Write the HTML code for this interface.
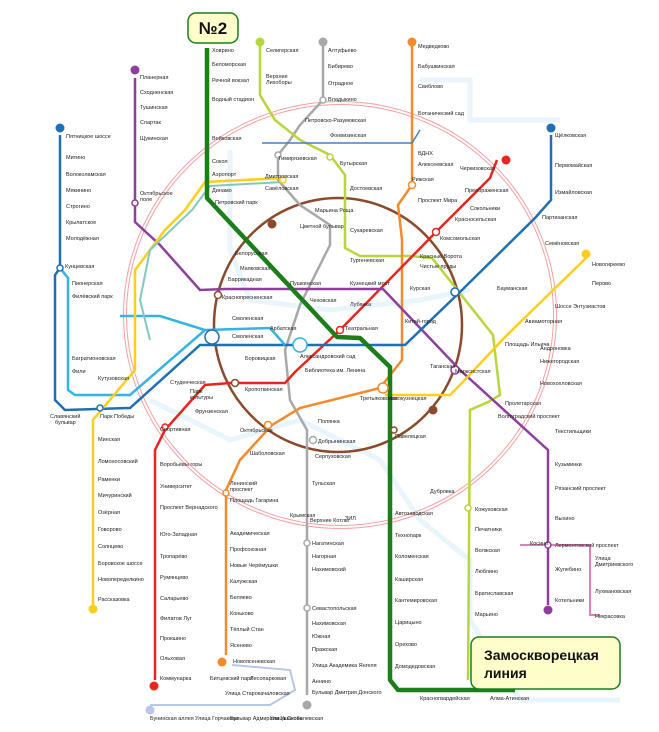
<!DOCTYPE html>
<html><head><meta charset="utf-8"><style>
html,body{margin:0;padding:0;background:#fff;}
svg{display:block;}
text{font-family:"Liberation Sans","Noto Sans CJK SC",sans-serif;font-size:5.5px;fill:#222;}
</style></head><body>
<svg width="659" height="732" viewBox="0 0 659 732" xmlns="http://www.w3.org/2000/svg">
<path d="M420,80 L470,80 L470,120 L560,120 M230,150 L230,250 L250,300 L330,310 L420,300 L470,290 M150,400 L230,440 L300,420 L380,460 L420,520 L470,560 L470,620 L520,700 L620,700" fill="none" stroke="#e8f5fc" stroke-width="5"/>
<ellipse cx="340" cy="315" rx="215" ry="212" fill="none" stroke="#f5a0a0" stroke-width="4"/>
<ellipse cx="340" cy="315" rx="215" ry="212" fill="none" stroke="#fff" stroke-width="2"/>
<ellipse cx="338" cy="325" rx="124" ry="127" fill="none" stroke="#8b4a2b" stroke-width="2.5"/>
<path d="M323,45 L323,100 L300,125 L290,140 L278,155 L278,180 L300,205 L330,225 L330,245 L300,305 L285,350 L290,400 L307,430 L307,695" fill="none" stroke="#a8a8a8" stroke-width="2.5"/>
<path d="M260,45 L260,95 L275,120 L300,140 L330,155 L345,175 L345,248 L360,256 L410,256 L432,258 L493,335 L500,395 L488,402 L470,410 L468,680" fill="none" stroke="#b6d63c" stroke-width="2.5"/>
<path d="M412,45 L412,185 L398,205 L402,240 L402,360 L380,388 L300,408 L272,425 L240,460 L226,490 L226,655" fill="none" stroke="#f58a2a" stroke-width="2.5"/>
<path d="M497,160 L490,178 L436,232 L340,330 L295,372 L285,383 L230,383 L205,385 L165,430 L155,450 L155,680" fill="none" stroke="#e8261e" stroke-width="2.5"/>
<path d="M135,78 L135,222 L160,245 L200,290 L225,289 L383,289 L460,370 L548,450 L548,605" fill="none" stroke="#8e3f9c" stroke-width="2.5"/>
<path d="M60,135 L60,268 L55,275 L55,400 L65,410 L130,408 L200,345 L405,345 L460,292 L535,218 L551,200 L551,135" fill="none" stroke="#1f6fb5" stroke-width="2.5"/>
<path d="M60,268 L68,278 L68,390 L75,395 L130,395 L205,330 L270,328 L285,345 M120,316 L160,316 L205,330" fill="none" stroke="#34b4e6" stroke-width="2.5"/>
<path d="M586,258 L505,337 L460,385 L450,395 L385,395 M93,605 L93,420 L135,370 L135,270 L165,230 L185,210 L205,182 L283,178" fill="none" stroke="#ffcd1c" stroke-width="2.5"/>
<path d="M283,182 L210,186 L192,210 L150,250 L140,300 L150,340" fill="none" stroke="#82c8c0" stroke-width="2"/>
<path d="M520,545 L550,545 L590,545 L590,615 L600,615" fill="none" stroke="#de7fb7" stroke-width="2"/>
<path d="M232,665 L290,670 L295,690 L270,705 L150,705" fill="none" stroke="#b8c6ea" stroke-width="2"/>
<path d="M262,143 L412,143 L420,130" fill="none" stroke="#3d83c4" stroke-width="1.5"/>
<path d="M207,48 L207,198 L337,337 L360,338 L390,367 L390,680 L398,690 L515,690" fill="none" stroke="#1b7e1b" stroke-width="4.5" stroke-linejoin="round"/>
<g fill="#fff" stroke-width="1.5">
<circle cx="436" cy="232" r="3.5" stroke="#e8261e"/><circle cx="340" cy="330" r="3.5" stroke="#e8261e"/>
<circle cx="218" cy="295" r="3.5" stroke="#8b4a2b"/><circle cx="235" cy="383" r="3.5" stroke="#8b4a2b"/>
<circle cx="268" cy="425" r="3.5" stroke="#f58a2a"/><circle cx="313" cy="440" r="3.5" stroke="#a8a8a8"/>
<circle cx="394" cy="430" r="3" stroke="#8b4a2b"/><circle cx="455" cy="370" r="4" stroke="#8e3f9c"/>
<circle cx="455" cy="292" r="4" stroke="#1f6fb5"/><circle cx="300" cy="345" r="7" stroke="#34b4e6"/>
<circle cx="212" cy="337" r="7" stroke="#1f6fb5"/><circle cx="383" cy="388" r="5" stroke="#f58a2a"/>
<circle cx="412" cy="185" r="3.5" stroke="#f58a2a"/><circle cx="323" cy="100" r="3" stroke="#a8a8a8"/>
<circle cx="330" cy="157" r="3" stroke="#b6d63c"/><circle cx="135" cy="203" r="3" stroke="#8e3f9c"/>
<circle cx="468" cy="508" r="3" stroke="#b6d63c"/><circle cx="307" cy="543" r="3" stroke="#a8a8a8"/>
<circle cx="307" cy="608" r="3" stroke="#a8a8a8"/><circle cx="226" cy="493" r="3" stroke="#f58a2a"/>
<circle cx="165" cy="427" r="3" stroke="#e8261e"/><circle cx="100" cy="408" r="3" stroke="#1f6fb5"/>
<circle cx="60" cy="268" r="3" stroke="#1f6fb5"/><circle cx="548" cy="545" r="3" stroke="#8e3f9c"/>
<circle cx="283" cy="180" r="3" stroke="#ffcd1c"/><circle cx="278" cy="155" r="3" stroke="#a8a8a8"/>
</g>
<g>
<circle cx="135" cy="70" r="4.5" fill="#8e3f9c"/><circle cx="60" cy="128" r="4.5" fill="#1f6fb5"/>
<circle cx="260" cy="42" r="4.5" fill="#b6d63c"/><circle cx="323" cy="42" r="4.5" fill="#a8a8a8"/>
<circle cx="412" cy="42" r="4.5" fill="#f58a2a"/><circle cx="551" cy="128" r="4.5" fill="#1f6fb5"/>
<circle cx="506" cy="160" r="4.5" fill="#e8261e"/><circle cx="586" cy="254" r="4.5" fill="#ffcd1c"/>
<circle cx="548" cy="610" r="4.5" fill="#8e3f9c"/><circle cx="154" cy="686" r="4.5" fill="#e8261e"/>
<circle cx="93" cy="609" r="4.5" fill="#ffcd1c"/><circle cx="222" cy="662" r="4.5" fill="#f58a2a"/>
<circle cx="307" cy="705" r="4.5" fill="#a8a8a8"/><circle cx="150" cy="710" r="4.5" fill="#b8c6ea"/>
<circle cx="272" cy="224" r="4.5" fill="#8b4a2b"/><circle cx="433" cy="410" r="4.5" fill="#8b4a2b"/>
</g>
<g>
<text x="212" y="52">Ховрино</text><text x="212" y="66">Беломорская</text><text x="212" y="82">Речной вокзал</text><text x="212" y="101">Водный стадион</text><text x="212" y="140">Войковская</text><text x="212" y="163">Сокол</text><text x="212" y="176">Аэропорт</text><text x="212" y="192">Динамо</text><text x="215" y="204">Петровский парк</text>
<text x="266" y="52">Селигерская</text><text x="266" y="78">Верхние</text><text x="266" y="84">Лихоборы</text><text x="328" y="52">Алтуфьево</text><text x="328" y="68">Бибирево</text><text x="328" y="85">Отрадное</text><text x="328" y="101">Владыкино</text>
<text x="418" y="48">Медведково</text><text x="418" y="68">Бабушкинская</text><text x="418" y="88">Свиблово</text><text x="418" y="115">Ботанический сад</text><text x="418" y="155">ВДНХ</text><text x="418" y="166">Алексеевская</text><text x="412" y="181">Рижская</text><text x="418" y="202">Проспект Мира</text>
<text x="140" y="79">Планерная</text><text x="140" y="94">Сходненская</text><text x="140" y="109">Тушинская</text><text x="140" y="124">Спартак</text><text x="140" y="140">Щукинская</text><text x="140" y="195">Октябрьское</text><text x="140" y="201">поле</text>
<text x="66" y="138">Пятницкое шоссе</text><text x="66" y="159">Митино</text><text x="66" y="176">Волоколамская</text><text x="66" y="192">Мякинино</text><text x="66" y="208">Строгино</text><text x="66" y="224">Крылатское</text><text x="66" y="240">Молодёжная</text>
<text x="65" y="268">Кунцевская</text><text x="72" y="285">Пионерская</text><text x="72" y="298">Филёвский парк</text><text x="72" y="360">Багратионовская</text><text x="72" y="373">Фили</text><text x="98" y="380">Кутузовская</text><text x="50" y="418">Славянский</text><text x="55" y="424">бульвар</text><text x="100" y="418">Парк Победы</text>
<text x="98" y="441">Минская</text><text x="98" y="463">Ломоносовский</text><text x="98" y="481">Раменки</text><text x="98" y="497">Мичуринский</text><text x="98" y="514">Озёрная</text><text x="98" y="531">Говорово</text><text x="98" y="548">Солнцево</text><text x="98" y="565">Боровское шоссе</text><text x="98" y="581">Новопеределкино</text><text x="98" y="601">Рассказовка</text>
<text x="160" y="431">Спортивная</text><text x="160" y="466">Воробьёвы горы</text><text x="160" y="488">Университет</text><text x="160" y="509">Проспект Вернадского</text><text x="160" y="536">Юго-Западная</text><text x="160" y="558">Тропарёво</text><text x="160" y="579">Румянцево</text><text x="160" y="600">Саларьево</text><text x="160" y="620">Филатов Луг</text><text x="160" y="640">Прокшино</text><text x="160" y="660">Ольховая</text><text x="160" y="680">Коммунарка</text>
<text x="230" y="535">Академическая</text><text x="230" y="551">Профсоюзная</text><text x="230" y="567">Новые Черёмушки</text><text x="230" y="583">Калужская</text><text x="230" y="599">Беляево</text><text x="230" y="615">Коньково</text><text x="230" y="631">Тёплый Стан</text><text x="230" y="647">Ясенево</text><text x="233" y="663">Новоясеневская</text>
<text x="312" y="545">Нагатинская</text><text x="312" y="558">Нагорная</text><text x="312" y="571">Нахимовский</text><text x="312" y="610">Севастопольская</text><text x="312" y="625">Нахимовская</text><text x="312" y="638">Южная</text><text x="312" y="651">Пражская</text><text x="312" y="667">Улица Академика Янгеля</text><text x="312" y="683">Аннино</text><text x="312" y="694">Бульвар Дмитрия Донского</text>
<text x="395" y="515">Автозаводская</text><text x="395" y="537">Технопарк</text><text x="395" y="558">Коломенская</text><text x="395" y="581">Каширская</text><text x="395" y="602">Кантемировская</text><text x="395" y="624">Царицыно</text><text x="395" y="646">Орехово</text><text x="395" y="668">Домодедовская</text><text x="420" y="700">Красногвардейская</text><text x="490" y="700">Алма-Атинская</text>
<text x="475" y="511">Кожуховская</text><text x="475" y="531">Печатники</text><text x="475" y="552">Волжская</text><text x="475" y="573">Люблино</text><text x="475" y="595">Братиславская</text><text x="475" y="616">Марьино</text><text x="430" y="493">Дубровка</text>
<text x="555" y="137">Щёлковская</text><text x="555" y="167">Первомайская</text><text x="555" y="194">Измайловская</text><text x="542" y="219">Партизанская</text><text x="545" y="245">Семёновская</text><text x="497" y="290">Бауманская</text><text x="555" y="433">Текстильщики</text><text x="555" y="466">Кузьминки</text><text x="555" y="490">Рязанский проспект</text><text x="555" y="520">Выхино</text><text x="555" y="547">Лермонтовский проспект</text><text x="555" y="571">Жулебино</text><text x="555" y="602">Котельники</text>
<text x="592" y="266">Новогиреево</text><text x="592" y="285">Перово</text><text x="555" y="308">Шоссе Энтузиастов</text><text x="525" y="323">Авиамоторная</text><text x="505" y="346">Площадь Ильича</text><text x="540" y="350">Андроновка</text><text x="540" y="363">Нижегородская</text><text x="540" y="385">Новохохловская</text><text x="505" y="405">Пролетарская</text><text x="498" y="418">Волгоградский проспект</text>
<text x="460" y="170">Черкизовская</text><text x="465" y="192">Преображенская</text><text x="470" y="210">Сокольники</text><text x="455" y="221">Красносельская</text><text x="440" y="240">Комсомольская</text><text x="420" y="258">Красные Ворота</text><text x="420" y="268">Чистые пруды</text><text x="410" y="290">Курская</text><text x="405" y="323">Китай-город</text><text x="430" y="368">Таганская</text><text x="455" y="373">Марксистская</text>
<text x="235" y="255">Белорусская</text><text x="240" y="270">Маяковская</text><text x="228" y="281">Баррикадная</text><text x="222" y="299">Краснопресненская</text><text x="290" y="285">Пушкинская</text><text x="310" y="302">Чеховская</text><text x="350" y="285">Кузнецкий мост</text><text x="350" y="306">Лубянка</text><text x="345" y="330">Театральная</text><text x="232" y="320">Смоленская</text><text x="232" y="338">Смоленская</text><text x="270" y="330">Арбатская</text><text x="245" y="360">Боровицкая</text><text x="300" y="358">Александровский сад</text><text x="305" y="372">Библиотека им. Ленина</text>
<text x="170" y="384">Студенческая</text><text x="245" y="391">Кропоткинская</text><text x="190" y="393">Парк</text><text x="190" y="399">культуры</text><text x="195" y="413">Фрунзенская</text><text x="240" y="432">Октябрьская</text><text x="250" y="455">Шаболовская</text><text x="318" y="443">Добрынинская</text><text x="318" y="423">Полянка</text><text x="315" y="458">Серпуховская</text><text x="312" y="485">Тульская</text><text x="395" y="438">Павелецкая</text><text x="388" y="400">Новокузнецкая</text><text x="360" y="400">Третьяковская</text>
<text x="315" y="212">Марьина Роща</text><text x="300" y="228">Цветной бульвар</text><text x="350" y="232">Сухаревская</text><text x="350" y="262">Тургеневская</text><text x="350" y="190">Достоевская</text><text x="340" y="165">Бутырская</text><text x="278" y="160">Тимирязевская</text><text x="265" y="178">Дмитровская</text><text x="265" y="190">Савёловская</text><text x="305" y="122">Петровско-Разумовская</text><text x="330" y="137">Фонвизинская</text>
<text x="230" y="485">Ленинский</text><text x="230" y="491">проспект</text><text x="230" y="502">Площадь Гагарина</text><text x="290" y="517">Крымская</text><text x="310" y="522">Верхние Котлы</text><text x="345" y="520">ЗИЛ</text>
<text x="530" y="545">Косино</text><text x="595" y="560">Улица</text><text x="595" y="566">Дмитриевского</text><text x="595" y="593">Лухмановская</text><text x="595" y="618">Некрасовка</text>
<text x="210" y="680">Битцевский парк</text><text x="250" y="680">Лесопарковая</text><text x="225" y="695">Улица Старокачаловская</text><text x="150" y="720">Бунинская аллея</text><text x="195" y="720">Улица Горчакова</text><text x="230" y="720">Бульвар Адмирала Ушакова</text><text x="270" y="720">Улица Скобелевская</text>
</g>
<rect x="188" y="13" width="50" height="30" rx="8" fill="#ffffcc" stroke="#1b7e1b" stroke-width="1.5"/>
<text x="213" y="34" text-anchor="middle" style="font-size:17px;font-weight:bold;fill:#111">№2</text>
<rect x="471" y="637" width="149" height="52" rx="8" fill="#ffffcc" stroke="#1b7e1b" stroke-width="1.5"/>
<text x="484" y="660" style="font-size:14px;font-weight:bold;fill:#111">Замоскворецкая</text>
<text x="484" y="678" style="font-size:14px;font-weight:bold;fill:#111">линия</text>
</svg>
</body></html>
